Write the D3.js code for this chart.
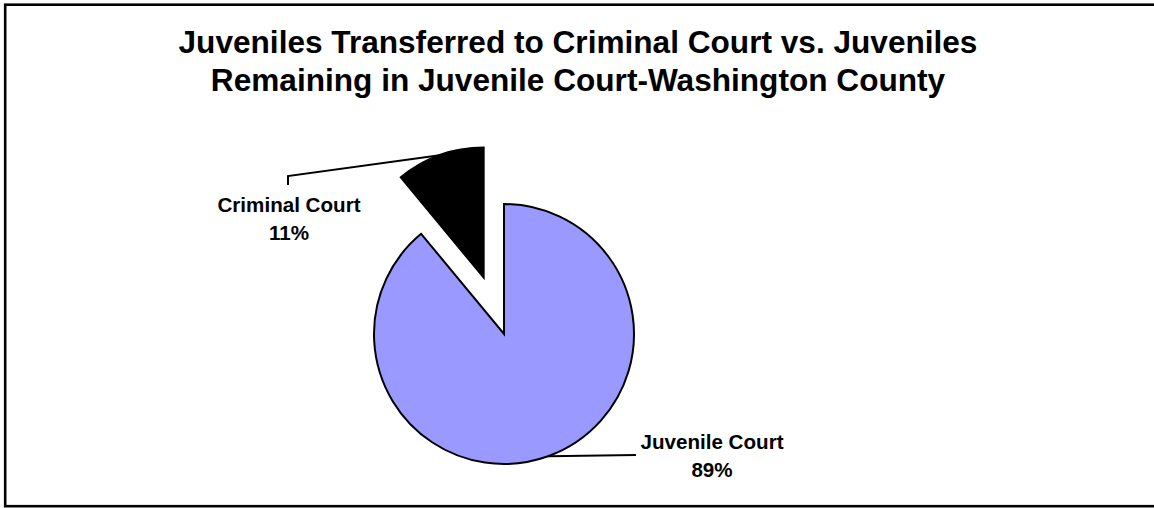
<!DOCTYPE html>
<html>
<head>
<meta charset="utf-8">
<script src="https://cdn.jsdelivr.net/npm/d3@7"></script>
<style>
  html, body { margin: 0; padding: 0; background: #fff; overflow: hidden; }
  svg { display: block; }
  text { font-family: Arial, "Liberation Sans", sans-serif; font-weight: bold; fill: #000; }
</style>
</head>
<body>
<svg id="chart" width="1154" height="508"></svg>
<script>
const titleLines = ["Juveniles Transferred to Criminal Court vs. Juveniles", "Remaining in Juvenile Court-Washington County"];
const categories = ["Juvenile Court", "Criminal Court"];
const values = [89, 11];
const percentLabels = ["89%", "11%"];
const colors = ["#9999FF", "#000000"];
const exploded = [false, true];

const svg = d3.select("#chart");

// frame
svg.append("rect")
  .attr("x", 5.2).attr("y", 4.7)
  .attr("width", 1160).attr("height", 501.5)
  .attr("fill", "none").attr("stroke", "#000").attr("stroke-width", 2.6);

// title
const title = svg.append("text")
  .attr("text-anchor", "middle")
  .style("font-size", "31.6px");
titleLines.forEach((t, i) => {
  title.append("tspan").attr("x", 578).attr("y", 53 + i * 38).text(t);
});

const cx = 504, cy = 334, r = 130, explodeDist = 60;

const data = categories.map((c, i) => ({ cat: c, value: values[i], pct: percentLabels[i], color: colors[i], exploded: exploded[i] }));
const pie = d3.pie().sort(null).value(d => d.value).startAngle(0).endAngle(2 * Math.PI);
const arcs = pie(data);
const arc = d3.arc().innerRadius(0).outerRadius(r);

const g = svg.append("g").attr("transform", `translate(${cx},${cy})`);

function offsetOf(a) {
  if (!a.data.exploded) return [0, 0];
  const mid = (a.startAngle + a.endAngle) / 2;
  return [Math.sin(mid) * explodeDist, -Math.cos(mid) * explodeDist];
}
function arcPoint(a) {
  const mid = (a.startAngle + a.endAngle) / 2;
  const o = offsetOf(a);
  return [o[0] + Math.sin(mid) * r, o[1] - Math.cos(mid) * r];
}

// leader lines (drawn under slices)
const labelPos = {
  "Criminal Court": { x: 289, y1: 212, lead: [[288 - cx, 185 - cy], [288 - cx, 176 - cy]] },
  "Juvenile Court": { x: 712, y1: 449, lead: [[636 - cx, 455 - cy]] }
};
arcs.forEach(a => {
  const lp = labelPos[a.data.cat];
  const p = arcPoint(a);
  const pts = lp.lead.concat([p]);
  g.append("path")
    .attr("d", d3.line()(pts))
    .attr("fill", "none").attr("stroke", "#000").attr("stroke-width", 2);
});

g.selectAll("path.slice")
  .data(arcs)
  .join("path")
  .attr("class", "slice")
  .attr("transform", d => `translate(${offsetOf(d)[0]},${offsetOf(d)[1]})`)
  .attr("d", arc)
  .attr("fill", d => d.data.color)
  .attr("stroke", "#000")
  .attr("stroke-width", 2)
  .attr("stroke-linejoin", "miter");

arcs.forEach(a => {
  const lp = labelPos[a.data.cat];
  const t = svg.append("text").attr("text-anchor", "middle").style("font-size", "20.6px");
  t.append("tspan").attr("x", lp.x).attr("y", lp.y1).text(a.data.cat);
  t.append("tspan").attr("x", lp.x).attr("y", lp.y1 + 28).text(a.data.pct);
});
</script>
</body>
</html>
